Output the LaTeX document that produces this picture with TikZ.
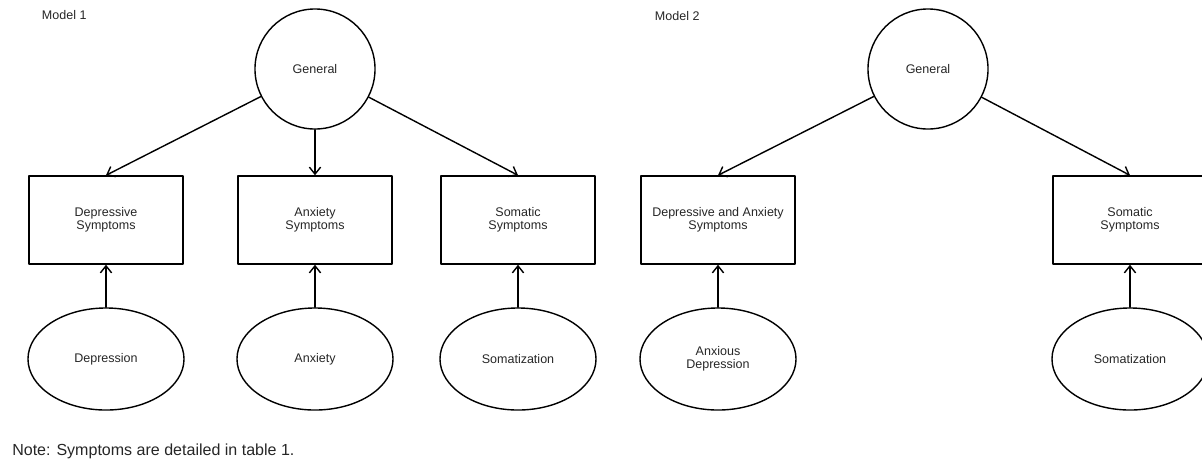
\documentclass[tikz,border=0pt]{standalone}
\usepackage{fontspec}
\setmainfont{Liberation Sans}
\usetikzlibrary{arrows.meta,shapes.geometric}
\newcommand{\MainColor}{black}

\begin{document}
\begin{tikzpicture}[line cap=round,line join=round,
  >={Straight Barb[length=5pt,width=8pt]},x=0.025cm,y=-0.025cm,
  every node/.style={font=\fontsize{8.9}{9.6}\selectfont,align=center,text=black!85},
  general/.style={draw=\MainColor,circle,minimum size=3cm,inner sep=0pt,line width=1pt},
  indicator/.style={draw=\MainColor,rectangle,minimum width=3.85cm,minimum height=2.2cm,inner sep=0pt,line width=1pt},
  specific/.style={draw=\MainColor,ellipse,minimum width=3.9cm,minimum height=2.55cm,inner sep=0pt,line width=1pt},
  path/.style={->,draw=\MainColor,line width=1pt}]
  \useasboundingbox (0,0) rectangle (1202,462);
  \clip (0,0) rectangle (1202,462);
  % Model 1
  \node[anchor=west] (mone) at (37,15) {Model 1};
  \node[general] (gone) at (315,69) {General};
  \node[indicator] (dep) at (106,220) {Depressive\\Symptoms};
  \node[indicator] (anx) at (315,220) {Anxiety\\Symptoms};
  \node[indicator] (som) at (518,220) {Somatic\\Symptoms};
  \node[specific] (fdep) at (106,359) {Depression};
  \node[specific] (fanx) at (315,359) {Anxiety};
  \node[specific] (fsom) at (518,359) {Somatization};
  \draw[path] (gone) -- (dep.north);
  \draw[path] (gone) -- (anx.north);
  \draw[path] (gone) -- (som.north);
  \draw[path] (fdep) -- (dep);
  \draw[path] (fanx) -- (anx);
  \draw[path] (fsom) -- (som);
  % Model 2
  \node[anchor=west] (mtwo) at (650,16) {Model 2};
  \node[general] (gtwo) at (928,69) {General};
  \node[indicator] (depanx) at (718,220) {Depressive and Anxiety\\Symptoms};
  \node[indicator] (somtwo) at (1130,220) {Somatic\\Symptoms};
  \node[specific] (fdepanx) at (718,359) {Anxious\\Depression};
  \node[specific] (fsomtwo) at (1130,359) {Somatization};
  \draw[path] (gtwo) -- (depanx.north);
  \draw[path] (gtwo) -- (somtwo.north);
  \draw[path] (fdepanx) -- (depanx);
  \draw[path] (fsomtwo) -- (somtwo);
  % note
  \node[anchor=west,font=\fontsize{11.4}{13}\selectfont,inner sep=0pt] (note) at (12,451) {Note: Symptoms are detailed in table 1.};
\end{tikzpicture}
\end{document}
